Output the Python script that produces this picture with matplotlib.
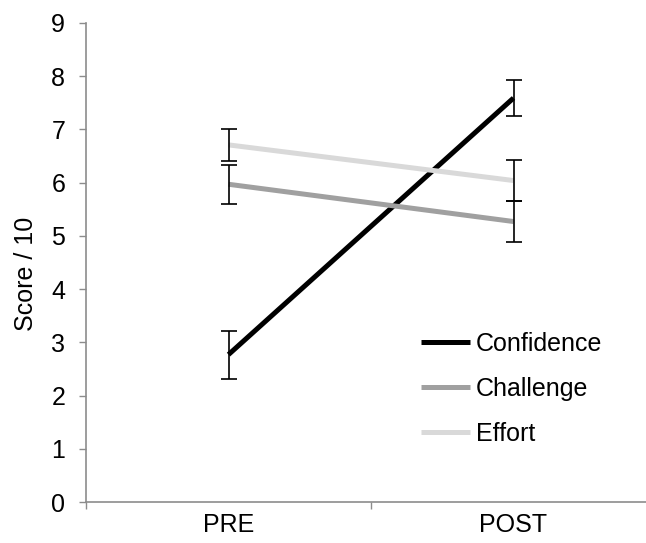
import matplotlib
matplotlib.use("Agg")
import matplotlib.pyplot as plt

plt.rcParams["font.family"] = ["Liberation Sans", "DejaVu Sans"]

PHASES = ["PRE", "POST"]
SERIES = ["Confidence", "Challenge", "Effort"]
MEANS = {
    "Confidence": [2.77, 7.59],
    "Challenge": [5.97, 5.27],
    "Effort": [6.71, 6.04],
}
ERRORS = {
    "Confidence": [0.45, 0.34],
    "Challenge": [0.37, 0.39],
    "Effort": [0.30, 0.39],
}
COLORS = {"Confidence": "#000000", "Challenge": "#a0a0a0", "Effort": "#d9d9d9"}
AXIS_GREY = "#8c8c8c"


def main() -> None:
    fig = plt.figure(figsize=(6.46, 5.43), dpi=100)
    ax = fig.add_axes([86 / 646, 1 - 502 / 543, 570 / 646, 479 / 543])

    x = [0.5, 1.5]
    for name in SERIES:
        ax.plot(x, MEANS[name], color=COLORS[name], linewidth=3.6,
                label=name, solid_capstyle="butt", zorder=2)
    for name in SERIES:
        ax.errorbar(x, MEANS[name], yerr=ERRORS[name], fmt="none",
                    ecolor="black", elinewidth=1.2, capsize=5.5,
                    capthick=1.2, zorder=3)

    ax.set_xlim(0, 2)
    ax.set_ylim(0, 9)
    ax.set_yticks(range(10))
    ax.set_xticks([0, 1, 2])
    ax.set_xticklabels([])
    ax.set_xticks(x, minor=True)
    ax.set_xticklabels(PHASES, minor=True)
    ax.tick_params(axis="x", which="major", length=5, width=1, color=AXIS_GREY)
    ax.tick_params(axis="x", which="minor", length=0, pad=8, labelsize=18)
    ax.tick_params(axis="y", length=5, width=1, color=AXIS_GREY, pad=10,
                   labelsize=18)

    for side in ("top", "right"):
        ax.spines[side].set_visible(False)
    for side in ("left", "bottom"):
        ax.spines[side].set_color(AXIS_GREY)
        ax.spines[side].set_linewidth(1.2)

    ax.set_ylabel("Score / 10", fontsize=18)
    # the title sits a bit below the middle of the axis in the original
    ax.yaxis.set_label_coords(-0.085, 0.476)

    ax.legend(loc="upper left", bbox_to_anchor=(421 / 646, 1 - 332 / 543),
              bbox_transform=fig.transFigure, frameon=False, fontsize=18,
              handlelength=1.95, handletextpad=0.25, labelspacing=0.84,
              borderpad=0, borderaxespad=0)

    fig.savefig("out.png", dpi=100)


if __name__ == "__main__":
    main()
